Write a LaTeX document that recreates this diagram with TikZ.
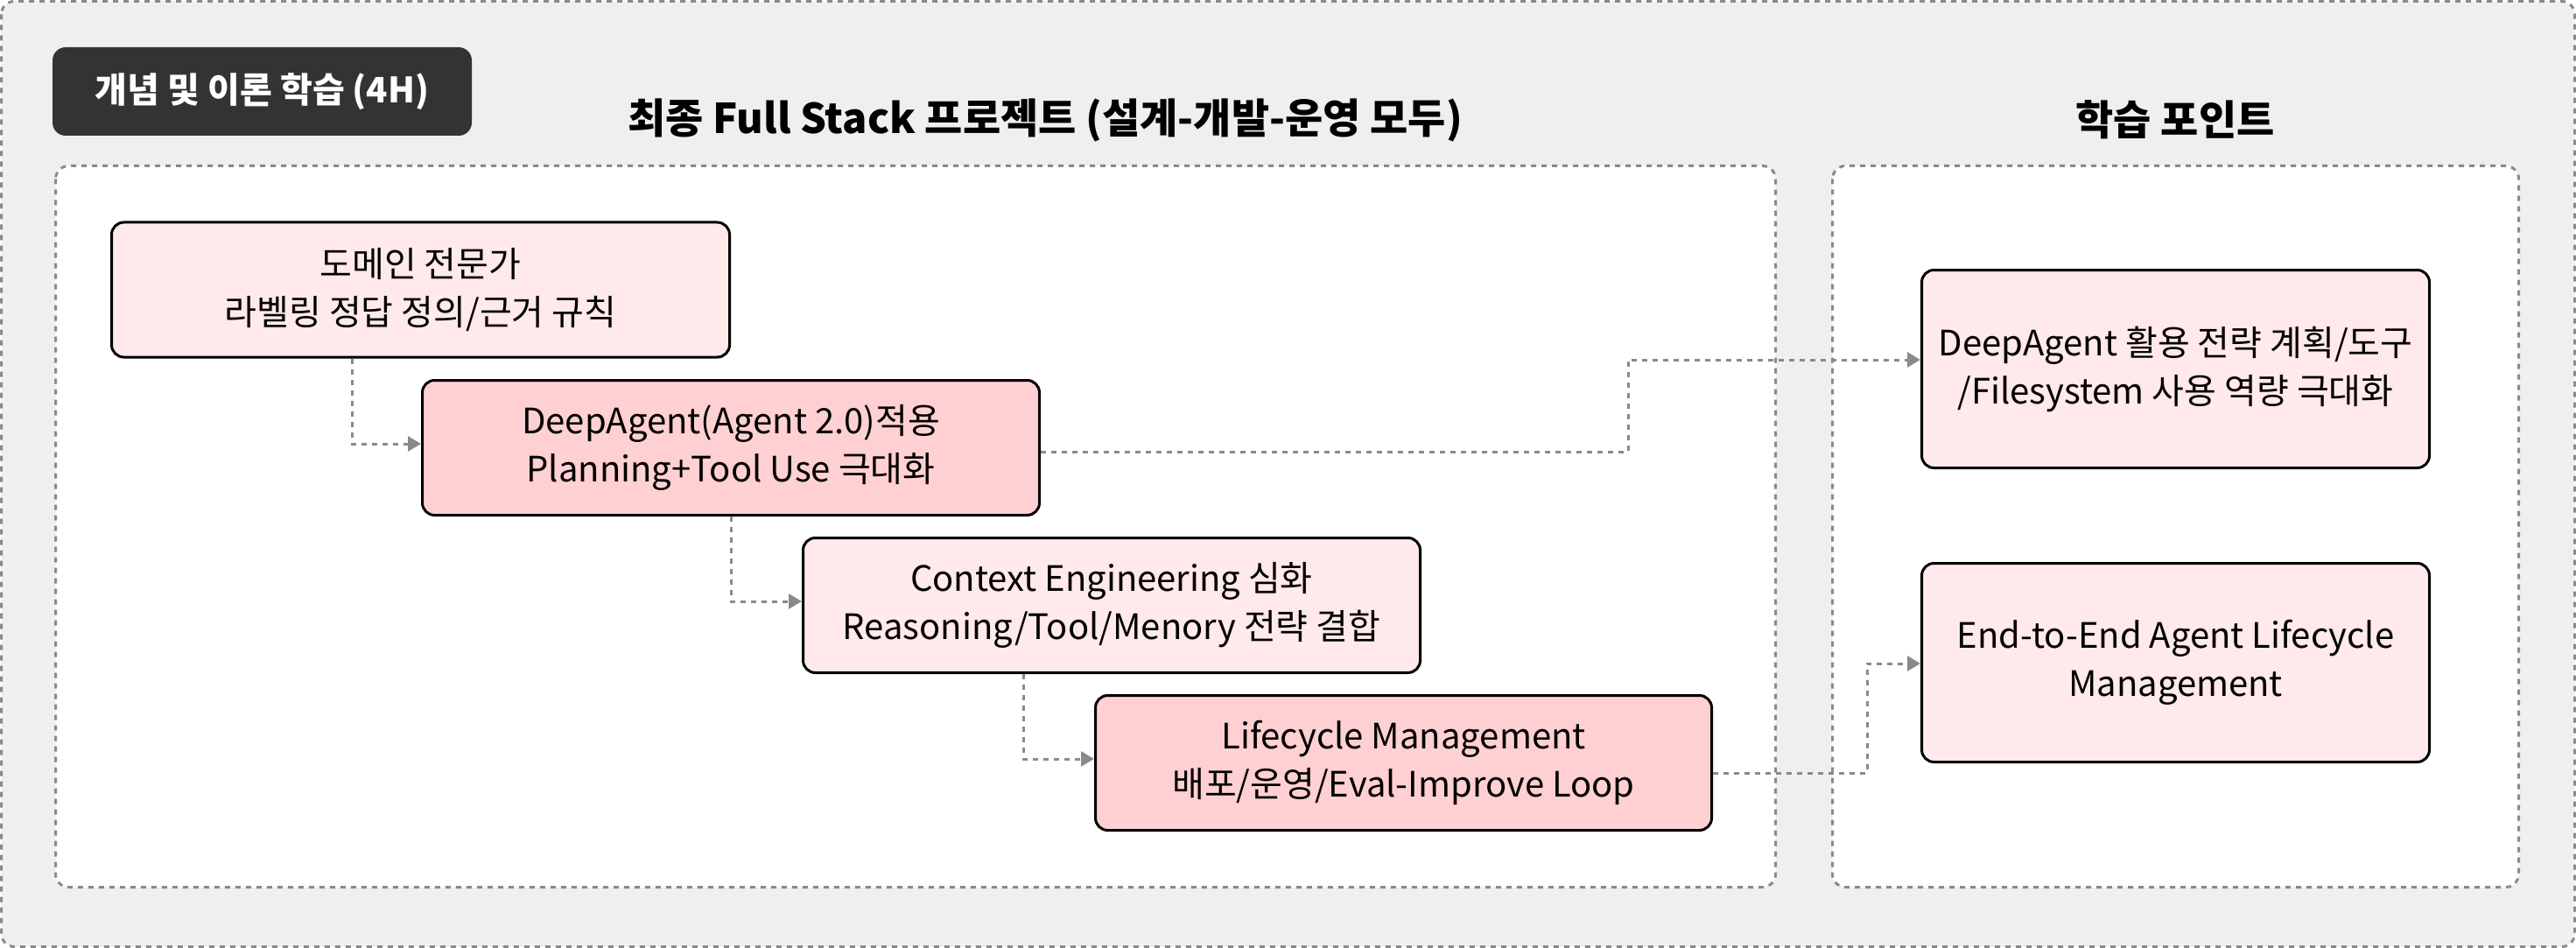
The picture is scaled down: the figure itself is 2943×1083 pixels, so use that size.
\documentclass[tikz,border=0pt]{standalone}
\usepackage{fontspec}
\setmainfont{Noto Sans CJK KR}
\usetikzlibrary{arrows.meta}
\definecolor{bgcol}{HTML}{EFEFEF}
\definecolor{dashcol}{HTML}{8A8A8A}
\definecolor{lightpink}{HTML}{FFE9EA}
\definecolor{darkpink}{HTML}{FFD0D2}
\definecolor{badgecol}{HTML}{333333}
\begin{document}
\begin{tikzpicture}[x=1pt,y=-1pt,
  panel/.style={draw=dashcol, line width=3pt, dash pattern=on 6pt off 6pt, fill=white, rounded corners=15pt},
  box/.style={draw=black, line width=3pt, rounded corners=14pt, align=center, font=\fontsize{40}{55}\selectfont, inner sep=0pt},
  lightbox/.style={box, fill=lightpink},
  darkbox/.style={box, fill=darkpink},
  conn/.style={draw=dashcol, line width=3pt, dash pattern=on 6pt off 6pt, -{Triangle[length=15pt,width=17pt]}},
  title/.style={font=\bfseries\fontsize{47}{52}\selectfont},
]
\useasboundingbox (0,0) rectangle (2943,1083);
\fill[white] (0,0) rectangle (2943,1083);
\path[panel, fill=bgcol] (1.5,1.5) rectangle (2941.5,1081.5);
\path[panel] (63.5,189.5) rectangle (2028.5,1013.5);
\path[panel] (2093.5,189.5) rectangle (2877.5,1013.5);

\node[fill=badgecol, rounded corners=15pt, minimum width=479pt, minimum height=101pt, text=white, font=\bfseries\fontsize{40}{44}\selectfont] (badge) at (299.5,104.5) {개념 및 이론 학습 (4H)};
\node[title] (t1) at (1194,137) {최종 Full Stack 프로젝트 (설계-개발-운영 모두)};
\node[title] (t2) at (2485,137) {학습 포인트};

\node[lightbox, minimum width=706pt, minimum height=154pt] (b1) at (480.5,331) {도메인 전문가\\라벨링 정답 정의/근거 규칙};
\node[darkbox, minimum width=705pt, minimum height=154pt] (b2) at (835,511.5) {DeepAgent(Agent 2.0)적용\\Planning+Tool Use 극대화};
\node[lightbox, minimum width=705pt, minimum height=154pt] (b3) at (1270,691.5) {Context Engineering 심화\\Reasoning/Tool/Menory 전략 결합};
\node[darkbox, minimum width=704pt, minimum height=154pt] (b4) at (1603.5,871.5) {Lifecycle Management\\배포/운영/Eval-Improve Loop};
\node[lightbox, minimum width=580pt, minimum height=226pt] (r1) at (2485.5,421.5) {DeepAgent 활용 전략 계획/도구\\/Filesystem 사용 역량 극대화};
\node[lightbox, minimum width=580pt, minimum height=227pt] (r2) at (2485.5,757) {End-to-End Agent Lifecycle\\Management};

\draw[conn] ([xshift=-78.5pt]b1.south) |- ([yshift=4.5pt]b2.west);
\draw[conn] (b2.south) |- ([yshift=4.5pt]b3.west);
\draw[conn] ([xshift=-101pt]b3.south) |- ([yshift=4.5pt]b4.west);
\coordinate (k1) at (1860,411);
\coordinate (k2) at (2133,758);
\draw[conn] ([yshift=-4.5pt]b2.east) -| (k1) -- (r1.west |- k1);
\draw[conn] ([yshift=-11.5pt]b4.east) -| (k2) -- (r2.west |- k2);
\end{tikzpicture}
\end{document}
